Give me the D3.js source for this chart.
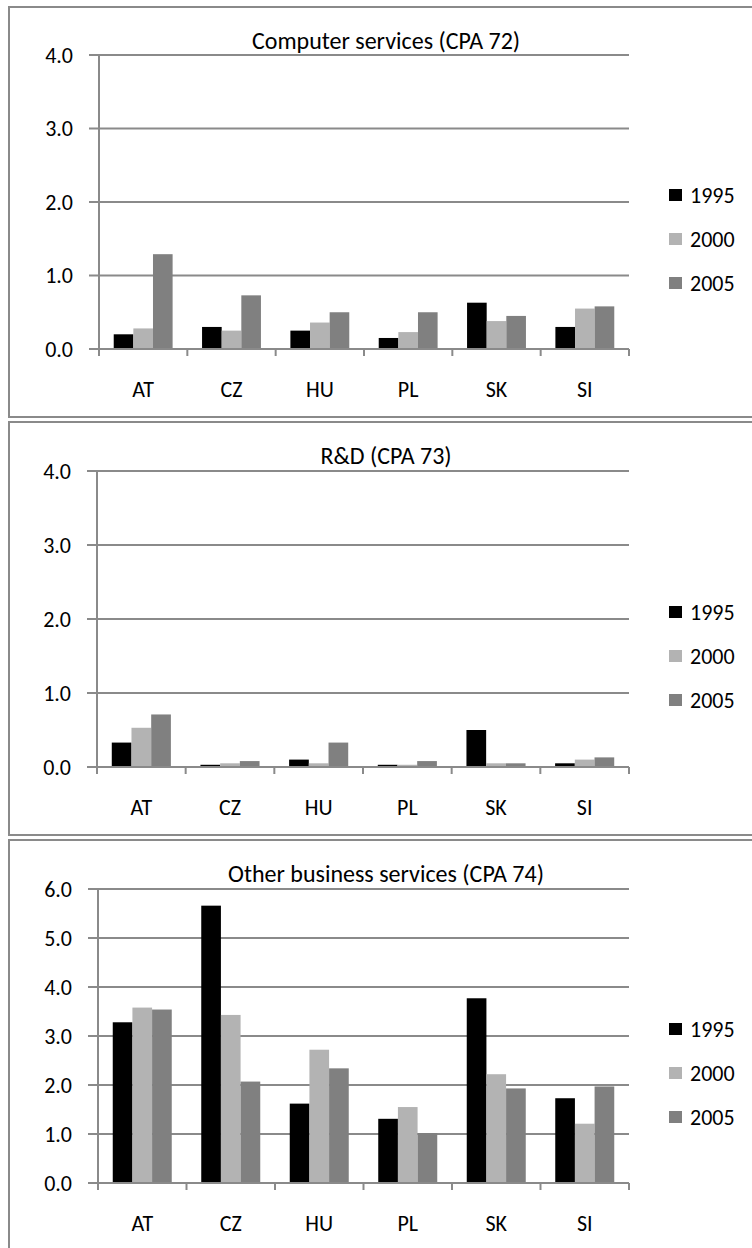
<!DOCTYPE html>
<html lang="en">
<head>
<meta charset="utf-8">
<title>Services charts</title>
<script src="https://cdn.jsdelivr.net/npm/d3@7"></script>
<style>
  body { margin: 0; background: #fff; }
  svg { display: block; }
  text { font-family: Carlito, Calibri, Lato, sans-serif; fill: #000; }
</style>
</head>
<body>
<div id="chart"></div>
<script>
// categories and series
var categories = ["AT", "CZ", "HU", "PL", "SK", "SI"];
var years = ["1995", "2000", "2005"];

// Computer services (CPA 72)
var computer1995 = [0.20, 0.30, 0.25, 0.15, 0.63, 0.30];
var computer2000 = [0.28, 0.25, 0.36, 0.23, 0.38, 0.55];
var computer2005 = [1.29, 0.73, 0.50, 0.50, 0.45, 0.58];

// R&D (CPA 73)
var rd1995 = [0.33, 0.03, 0.10, 0.03, 0.50, 0.05];
var rd2000 = [0.53, 0.05, 0.05, 0.03, 0.05, 0.10];
var rd2005 = [0.71, 0.08, 0.33, 0.08, 0.05, 0.13];

// Other business services (CPA 74)
var other1995 = [3.28, 5.66, 1.62, 1.31, 3.77, 1.73];
var other2000 = [3.58, 3.43, 2.72, 1.55, 2.22, 1.21];
var other2005 = [3.54, 2.07, 2.34, 1.02, 1.93, 1.97];

var ticks4 = [0, 1, 2, 3, 4];
var ticks6 = [0, 1, 2, 3, 4, 5, 6];

var colors = ["#000000", "#b3b3b3", "#808080"];
var gray = "#8a8a8a";

var svg = d3.select("#chart").append("svg")
    .attr("width", 752)
    .attr("height", 1248);

var panels = [
    { title: "Computer services (CPA 72)", series: [computer1995, computer2000, computer2005],
      ticks: ticks4, frameTop: 7, frameBottom: 417, x0: 99, plotTop: 55, plotBottom: 349 },
    { title: "R&D (CPA 73)", series: [rd1995, rd2000, rd2005],
      ticks: ticks4, frameTop: 422, frameBottom: 835, x0: 97, plotTop: 471, plotBottom: 767 },
    { title: "Other business services (CPA 74)", series: [other1995, other2000, other2005],
      ticks: ticks6, frameTop: 840, frameBottom: 1300, x0: 98, plotTop: 889, plotBottom: 1183 }
];

panels.forEach(function(p) {
    var x1 = 629;

    // frame of the chart area (runs off the right edge)
    svg.append("rect")
        .attr("x", 9)
        .attr("y", p.frameTop)
        .attr("width", 800)
        .attr("height", p.frameBottom - p.frameTop)
        .attr("fill", "none")
        .attr("stroke", gray)
        .attr("stroke-width", 2);

    var x = d3.scaleBand()
        .domain(categories)
        .range([p.x0, x1]);

    var xs = d3.scaleBand()
        .domain(years)
        .range([0, x.bandwidth()])
        .paddingOuter(0.75);

    var y = d3.scaleLinear()
        .domain([0, d3.max(p.ticks)])
        .range([p.plotBottom, p.plotTop]);

    var g = svg.append("g");

    // gridlines (with the small ticks left of the axis)
    g.selectAll(".grid")
        .data(p.ticks)
        .enter().append("line")
        .attr("x1", p.x0 - 10)
        .attr("x2", x1)
        .attr("y1", function(d) { return y(d); })
        .attr("y2", function(d) { return y(d); })
        .attr("stroke", gray)
        .attr("stroke-width", 2);

    // y axis labels
    var yAxis = d3.axisLeft(y)
        .tickValues(p.ticks)
        .tickSize(10)
        .tickPadding(16)
        .tickFormat(d3.format(".1f"));

    var ya = g.append("g")
        .attr("transform", "translate(" + p.x0 + ",0)")
        .call(yAxis);
    ya.select(".domain").remove();
    ya.selectAll("line").remove();
    ya.selectAll("text")
        .style("font-size", "22px")
        .attr("fill", "#000");

    // bars
    years.forEach(function(yr, i) {
        g.selectAll(".bar" + yr)
            .data(p.series[i])
            .enter().append("rect")
            .attr("x", function(d, j) { return x(categories[j]) + xs(yr); })
            .attr("y", function(d) { return y(d); })
            .attr("width", xs.bandwidth())
            .attr("height", function(d) { return y(0) - y(d); })
            .attr("fill", colors[i]);
    });

    // vertical axis line
    g.append("line")
        .attr("x1", p.x0).attr("x2", p.x0)
        .attr("y1", y(0)).attr("y2", y(d3.max(p.ticks)))
        .attr("stroke", gray)
        .attr("stroke-width", 2);

    // category axis line and ticks between categories
    g.append("line")
        .attr("x1", p.x0).attr("x2", x1)
        .attr("y1", y(0)).attr("y2", y(0))
        .attr("stroke", gray)
        .attr("stroke-width", 2);

    var bounds = categories.map(function(c) { return x(c); }).concat([x1]);
    g.selectAll(".ctick")
        .data(bounds)
        .enter().append("line")
        .attr("x1", function(d) { return d; })
        .attr("x2", function(d) { return d; })
        .attr("y1", y(0))
        .attr("y2", y(0) + 7)
        .attr("stroke", gray)
        .attr("stroke-width", 2);

    var xAxis = d3.axisBottom(x).tickSize(0).tickPadding(32);
    var xa = g.append("g")
        .attr("transform", "translate(0," + y(0) + ")")
        .call(xAxis);
    xa.select(".domain").remove();
    xa.selectAll("text")
        .style("font-size", "22px")
        .attr("fill", "#000");

    // title
    svg.append("text")
        .attr("x", 386)
        .attr("y", p.frameTop + 36)
        .attr("text-anchor", "middle")
        .attr("dominant-baseline", "middle")
        .style("font-size", "24px")
        .text(p.title);

    // legend
    var legMid = (p.plotTop + p.plotBottom) / 2 + 37;
    var leg = svg.append("g");
    years.forEach(function(yr, i) {
        var ly = legMid + (i - 1) * 44;
        leg.append("rect")
            .attr("x", 669)
            .attr("y", ly - 6)
            .attr("width", 13)
            .attr("height", 12)
            .attr("fill", colors[i]);
        leg.append("text")
            .attr("x", 690)
            .attr("y", ly)
            .attr("dominant-baseline", "central")
            .style("font-size", "22px")
            .text(yr);
    });
});
</script>
</body>
</html>
